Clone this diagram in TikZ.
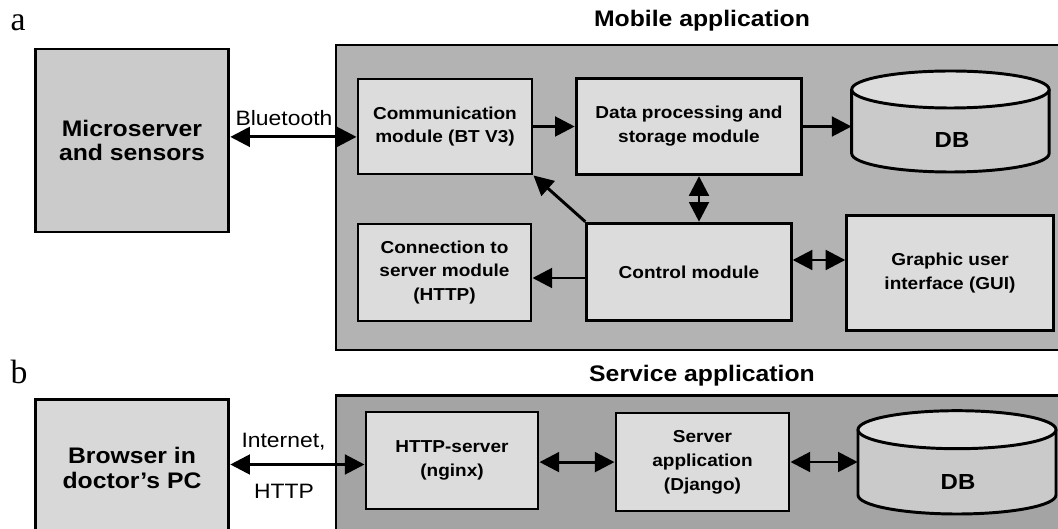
\documentclass[tikz,border=0pt]{standalone}
\usepackage{fontspec}
\setmainfont{Liberation Sans}[FakeStretch=1.1]
\newfontfamily\panelfont{Liberation Serif}
\usetikzlibrary{arrows.meta,positioning}
\definecolor{mobilebg}{HTML}{B3B3B3}
\definecolor{servicebg}{HTML}{A4A4A4}
\definecolor{modfill}{HTML}{DCDCDC}
\definecolor{hostfill}{HTML}{CBCBCB}
\definecolor{browserfill}{HTML}{D8D8D8}
\definecolor{dbbody}{HTML}{CACACA}
\definecolor{dbtop}{HTML}{DCDCDC}

\begin{document}
\begin{tikzpicture}[x=0.25mm,y=-0.25mm,
  every node/.style={inner sep=0pt,align=center,font=\bfseries\fontsize{12.3}{17}\selectfont},
  module/.style={draw=black,line width=2.1pt,fill=modfill},
  host/.style={module,fill=hostfill,font=\bfseries\fontsize{16}{17.4}\selectfont},
  title/.style={font=\bfseries\fontsize{16}{18}\selectfont},
  panel/.style={font=\panelfont\fontsize{24}{26}\selectfont},
  wire/.style={font=\fontsize{14.8}{17}\selectfont},
  dbtext/.style={font=\bfseries\fontsize{15.5}{17}\selectfont},
  outer/.style={draw=black,line width=1.8pt},
  cyl/.style={draw=black,line width=2.1pt},
  tip/.tip={Triangle[length=14pt,width=14pt]},
  link/.style={line width=2.1pt,-tip},
  dlink/.style={line width=2.1pt,tip-tip}]
\clip (0,0) rectangle (1058,529);
\fill[white] (0,0) rectangle (1058,529);

% (a) mobile application
\node[panel] (pa) at (18,23) {a};
\node[title] (mobiletitle) at (702,21) {Mobile application};
\draw[outer,fill=mobilebg] (336,45) rectangle (1080,350);
\node[host,minimum width=48.4mm,minimum height=45.75mm] (micro) at (132,140.5) {Microserver\\and sensors};
\node[module,minimum width=43.5mm,minimum height=23.75mm] (comm) at (445,126.5) {Communication\\module (BT V3)};
\node[module,minimum width=56.4mm,minimum height=24.1mm] (data) at (689,126.5) {Data processing and\\storage module};
\node[module,minimum width=51.1mm,minimum height=24.4mm] (control) at (689,272) {Control module};
\node[module,minimum width=43.25mm,minimum height=24.25mm] (conn) at (444.5,272.5) {Connection to\\server module\\(HTTP)};
\node[module,minimum width=51.6mm,minimum height=28.8mm] (gui) at (950,273) {Graphic user\\interface (GUI)};
% database cylinder
\draw[cyl,fill=dbbody] (851.7,89.5) -- (851.7,153.5) arc[start angle=180,end angle=0,x radius=98.7,y radius=18.5] -- (1049.1,89.5);
\draw[cyl,fill=dbtop] (950.4,89.5) ellipse [x radius=98.7,y radius=18.5];
\node[minimum width=49.3mm,minimum height=25.25mm] (db1) at (950.4,121.5) {};
\node[dbtext] (db1label) at (952,140) {DB};

\draw[dlink] ([yshift=0.9mm]micro.east) -- ([yshift=0.9mm]micro.east -| comm.west);
\node[wire] (bt) at (284,118) {Bluetooth};
\draw[link] (comm.east) -- (comm.east -| data.west);
\draw[link] (data.east) -- (data.east -| db1.west);
\draw[dlink] ([xshift=2.5mm]data.south) -- ([xshift=2.5mm]data.south |- control.north);
\draw[link] (control.north west) -- (comm.south east);
\draw[link] ([yshift=-1.5mm]control.west) -- ([yshift=-1.5mm]control.west -| conn.east);
\draw[dlink] ([yshift=3mm]control.east) -- ([yshift=3mm]control.east -| gui.west);

% (b) service application
\node[panel] (pb) at (19,372) {b};
\node[title] (servicetitle) at (702,376) {Service application};
\draw[outer,fill=servicebg] (336,395.6) rectangle (1080,560);
\node[host,fill=browserfill,minimum width=48.4mm,minimum height=34.1mm] (browser) at (132,468) {Browser in\\doctor’s PC};
\node[module,minimum width=43mm,minimum height=24.25mm] (http) at (452,460.5) {HTTP-server\\(nginx)};
\node[module,minimum width=43.25mm,minimum height=24.5mm] (srvapp) at (702.5,462) {Server\\application\\(Django)};
% database cylinder
\draw[cyl,fill=dbbody] (858,429.7) -- (858,495) arc[start angle=180,end angle=0,x radius=99,y radius=19] -- (1056,429.7);
\draw[cyl,fill=dbtop] (957,429.7) ellipse [x radius=99,y radius=19];
\node[minimum width=49.5mm,minimum height=25.8mm] (db2) at (957,462.4) {};
\node[dbtext] (db2label) at (958,482) {DB};

\draw[dlink] ([yshift=-1mm]http.west) -- ([yshift=-1mm]http.west -| browser.east);
\node[wire] (inet) at (283.5,442) {Internet,};
\node[wire] (httplabel) at (284,491.5) {HTTP};
\draw[dlink] ([yshift=-0.4mm]http.east) -- ([yshift=-0.4mm]http.east -| srvapp.west);
\draw[dlink] (srvapp.east) -- (srvapp.east -| db2.west);
\end{tikzpicture}
\end{document}
